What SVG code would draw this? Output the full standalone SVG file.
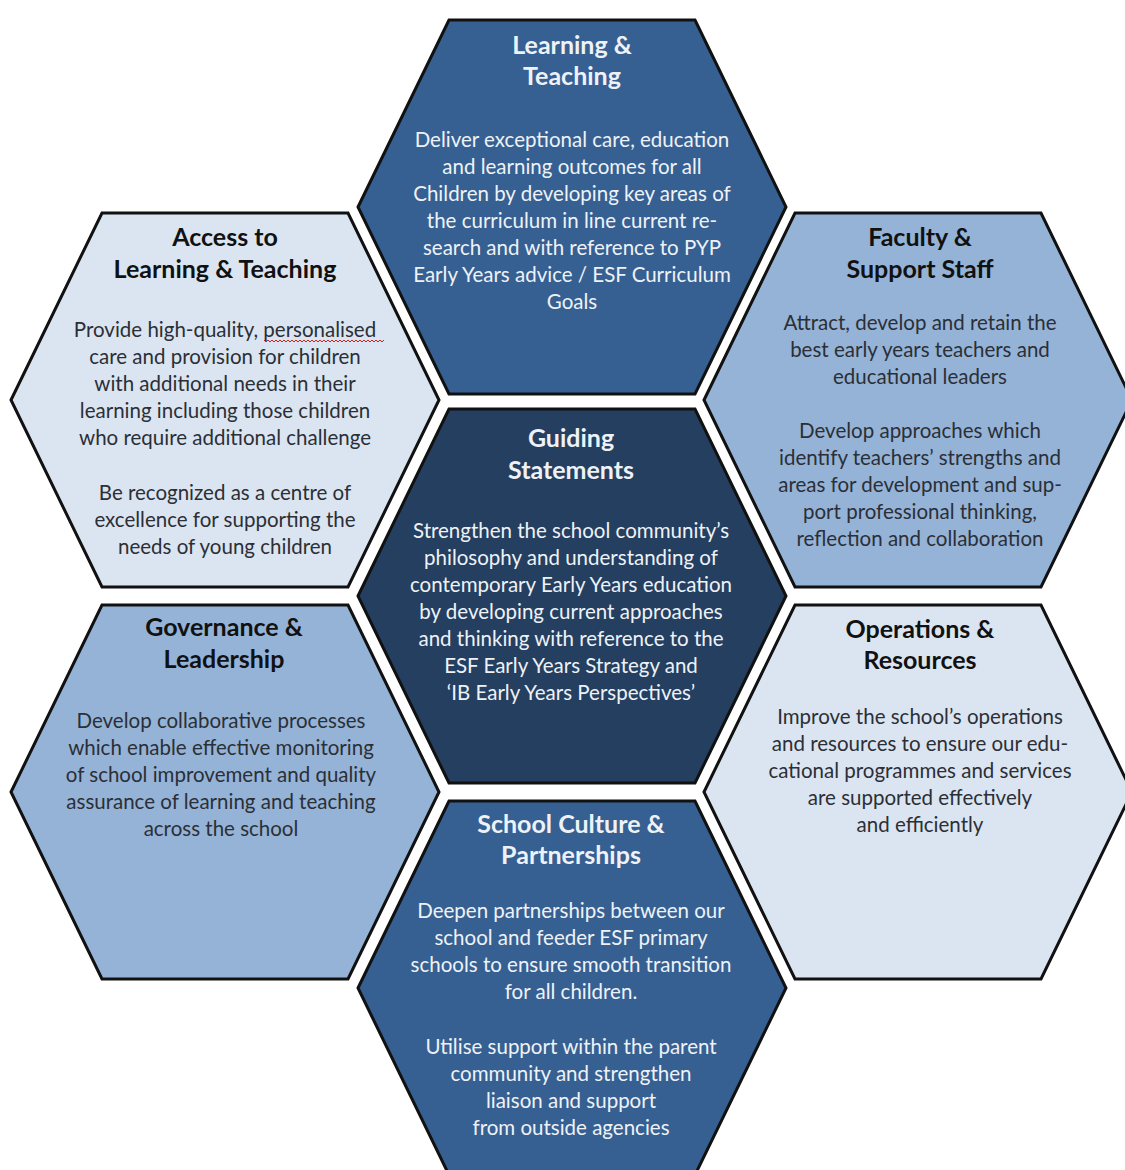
<svg xmlns="http://www.w3.org/2000/svg" width="1125" height="1170" viewBox="0 0 1125 1170">
  <style>
    .hex { stroke: #111; stroke-width: 3; stroke-linejoin: miter; }
    .dark1 { fill: #366092; }
    .dark2 { fill: #243f60; }
    .mid { fill: #95b3d7; }
    .light { fill: #dbe5f1; }
    text { font-family: Lato, "Open Sans", "Liberation Sans", sans-serif; text-anchor: middle; }
    .title { font-size: 25px; font-weight: bold; }
    .body { font-size: 20.5px; }
    .onDark { fill: #eef2f7; }
    .onLight { fill: #111111; }
    .bodyLight { fill: #2b2f36; }
    .squiggle { fill: none; stroke: #d02020; stroke-width: 1; }
  </style>
  <defs>
    <polygon id="hex" points="-214,0 -123,-187 123,-187 214,0 123,187 -123,187"/>
  </defs>
  <rect width="1125" height="1170" fill="#ffffff"/>

  <!-- Learning & Teaching (top) -->
  <g id="learning-teaching">
    <use href="#hex" x="572" y="207" class="hex dark1"/>
    <text class="title onDark" x="572" y="54">Learning &amp;</text>
    <text class="title onDark" x="572" y="85">Teaching</text>
    <text class="body onDark" x="572" y="147">Deliver exceptional care, education</text>
    <text class="body onDark" x="572" y="174">and learning outcomes for all</text>
    <text class="body onDark" x="572" y="201">Children by developing key areas of</text>
    <text class="body onDark" x="572" y="228">the curriculum in line current re-</text>
    <text class="body onDark" x="572" y="255">search and with reference to PYP</text>
    <text class="body onDark" x="572" y="282">Early Years advice / ESF Curriculum</text>
    <text class="body onDark" x="572" y="309">Goals</text>
  </g>

  <!-- Access to Learning & Teaching (upper left) -->
  <g id="access">
    <use href="#hex" x="225" y="400" class="hex light"/>
    <text class="title onLight" x="225" y="246">Access to</text>
    <text class="title onLight" x="225" y="278">Learning &amp; Teaching</text>
    <text class="body bodyLight" x="225" y="337">Provide high-quality, personalised</text>
    <text class="body bodyLight" x="225" y="364">care and provision for children</text>
    <text class="body bodyLight" x="225" y="391">with additional needs in their</text>
    <text class="body bodyLight" x="225" y="418">learning including those children</text>
    <text class="body bodyLight" x="225" y="445">who require additional challenge</text>
    <text class="body bodyLight" x="225" y="500">Be recognized as a centre of</text>
    <text class="body bodyLight" x="225" y="527">excellence for supporting the</text>
    <text class="body bodyLight" x="225" y="554">needs of young children</text>
    <path class="squiggle" d="M264,340 l2,2 l2,-2 l2,2 l2,-2 l2,2 l2,-2 l2,2 l2,-2 l2,2 l2,-2 l2,2 l2,-2 l2,2 l2,-2 l2,2 l2,-2 l2,2 l2,-2 l2,2 l2,-2 l2,2 l2,-2 l2,2 l2,-2 l2,2 l2,-2 l2,2 l2,-2 l2,2 l2,-2 l2,2 l2,-2 l2,2 l2,-2 l2,2 l2,-2 l2,2 l2,-2 l2,2 l2,-2 l2,2 l2,-2 l2,2 l2,-2 l2,2 l2,-2 l2,2 l2,-2 l2,2 l2,-2 l2,2 l2,-2 l2,2 l2,-2 l2,2 l2,-2 l2,2 l2,-2 l2,2 l2,-2"/>
  </g>

  <!-- Faculty & Support Staff (upper right) -->
  <g id="faculty">
    <use href="#hex" x="918" y="400" class="hex mid"/>
    <text class="title onLight" x="920" y="246">Faculty &amp;</text>
    <text class="title onLight" x="920" y="278">Support Staff</text>
    <text class="body bodyLight" x="920" y="330">Attract, develop and retain the</text>
    <text class="body bodyLight" x="920" y="357">best early years teachers and</text>
    <text class="body bodyLight" x="920" y="384">educational leaders</text>
    <text class="body bodyLight" x="920" y="438">Develop approaches which</text>
    <text class="body bodyLight" x="920" y="465">identify teachers’ strengths and</text>
    <text class="body bodyLight" x="920" y="492">areas for development and sup-</text>
    <text class="body bodyLight" x="920" y="519">port professional thinking,</text>
    <text class="body bodyLight" x="920" y="546">reflection and collaboration</text>
  </g>

  <!-- Guiding Statements (centre) -->
  <g id="guiding">
    <use href="#hex" x="572" y="596" class="hex dark2"/>
    <text class="title onDark" x="571" y="447">Guiding</text>
    <text class="title onDark" x="571" y="479">Statements</text>
    <text class="body onDark" x="571" y="538">Strengthen the school community’s</text>
    <text class="body onDark" x="571" y="565">philosophy and understanding of</text>
    <text class="body onDark" x="571" y="592">contemporary Early Years education</text>
    <text class="body onDark" x="571" y="619">by developing current approaches</text>
    <text class="body onDark" x="571" y="646">and thinking with reference to the</text>
    <text class="body onDark" x="571" y="673">ESF Early Years Strategy and</text>
    <text class="body onDark" x="571" y="700">‘IB Early Years Perspectives’</text>
  </g>

  <!-- Governance & Leadership (lower left) -->
  <g id="governance">
    <use href="#hex" x="225" y="792" class="hex mid"/>
    <text class="title onLight" x="224" y="636">Governance &amp;</text>
    <text class="title onLight" x="224" y="668">Leadership</text>
    <text class="body bodyLight" x="221" y="728">Develop collaborative processes</text>
    <text class="body bodyLight" x="221" y="755">which enable effective monitoring</text>
    <text class="body bodyLight" x="221" y="782">of school improvement and quality</text>
    <text class="body bodyLight" x="221" y="809">assurance of learning and teaching</text>
    <text class="body bodyLight" x="221" y="836">across the school</text>
  </g>

  <!-- Operations & Resources (lower right) -->
  <g id="operations">
    <use href="#hex" x="918" y="792" class="hex light"/>
    <text class="title onLight" x="920" y="638">Operations &amp;</text>
    <text class="title onLight" x="920" y="669">Resources</text>
    <text class="body bodyLight" x="920" y="724">Improve the school’s operations</text>
    <text class="body bodyLight" x="920" y="751">and resources to ensure our edu-</text>
    <text class="body bodyLight" x="920" y="778">cational programmes and services</text>
    <text class="body bodyLight" x="920" y="805">are supported effectively</text>
    <text class="body bodyLight" x="920" y="832">and efficiently</text>
  </g>

  <!-- School Culture & Partnerships (bottom) -->
  <g id="school-culture">
    <use href="#hex" x="572" y="988" class="hex dark1"/>
    <text class="title onDark" x="571" y="833">School Culture &amp;</text>
    <text class="title onDark" x="571" y="864">Partnerships</text>
    <text class="body onDark" x="571" y="918">Deepen partnerships between our</text>
    <text class="body onDark" x="571" y="945">school and feeder ESF primary</text>
    <text class="body onDark" x="571" y="972">schools to ensure smooth transition</text>
    <text class="body onDark" x="571" y="999">for all children.</text>
    <text class="body onDark" x="571" y="1054">Utilise support within the parent</text>
    <text class="body onDark" x="571" y="1081">community and strengthen</text>
    <text class="body onDark" x="571" y="1108">liaison and support</text>
    <text class="body onDark" x="571" y="1135">from outside agencies</text>
  </g>

  <!-- no connectors: the hexagons tile edge to edge -->
  <g id="connectors"/>
</svg>
